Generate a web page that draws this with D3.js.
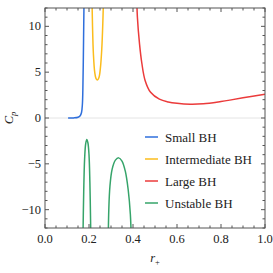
<!DOCTYPE html>
<html>
<head>
<meta charset="utf-8">
<script src="https://cdn.jsdelivr.net/npm/d3@7"></script>
<style>
  body { margin: 0; background: #fff; }
</style>
</head>
<body>
<div id="vis"></div>
<script>
// curves: [r+, Cp]
var smallBH = [[0.105,0],[0.13,0.01],[0.15,0.08],[0.16,0.25],[0.166,0.6],[0.17,1.5],[0.172,3],[0.174,6],[0.176,10],[0.178,14]];
var interBH = [[0.213,14],[0.216,10],[0.22,7],[0.226,5],[0.232,4.3],[0.238,4.15],[0.245,4.4],[0.252,5.5],[0.258,7.5],[0.263,10.5],[0.267,14]];
var largeBH = [[0.416,14],[0.42,11],[0.43,8],[0.44,6],[0.455,4.1],[0.48,2.8],[0.52,2.05],[0.56,1.75],[0.6,1.6],[0.66,1.5],[0.72,1.55],[0.8,1.8],[0.84,1.95],[0.9,2.2],[1.0,2.6]];
var unstable1 = [[0.172,-14],[0.176,-8],[0.18,-4.5],[0.185,-2.8],[0.19,-2.35],[0.195,-2.7],[0.2,-4],[0.204,-7],[0.207,-11],[0.209,-14]];
var unstable2 = [[0.287,-14],[0.29,-10],[0.295,-7.5],[0.305,-5.6],[0.32,-4.6],[0.335,-4.35],[0.35,-4.7],[0.365,-5.8],[0.378,-7.8],[0.388,-10.5],[0.393,-14]];

var legendNames  = ["Small BH", "Intermediate BH", "Large BH", "Unstable BH"];
var legendColors = ["#2f6fdc", "#fbbc1c", "#eb3b3b", "#36a46a"];
var xTicks = [0, 0.2, 0.4, 0.6, 0.8, 1.0];
var yTicks = [-10, -5, 0, 5, 10];

var FONT = "'Liberation Serif', 'Times New Roman', Times, 'DejaVu Serif', serif";
var W = 273, H = 273;
var margin = { top: 8, right: 8, bottom: 45, left: 45 };

var svg = d3.select("#vis").append("svg")
  .attr("width", W).attr("height", H)
  .attr("font-family", FONT);

var x = d3.scaleLinear().domain([0, 1]).range([margin.left, W - margin.right]);
var y = d3.scaleLinear().domain([-12, 12]).range([H - margin.bottom, margin.top]);

svg.append("clipPath").attr("id", "clip")
  .append("rect")
  .attr("x", x(0)).attr("y", y(12))
  .attr("width", x(1) - x(0)).attr("height", y(-12) - y(12));

// zero line
svg.append("line")
  .attr("x1", x(0)).attr("x2", x(1))
  .attr("y1", y(0)).attr("y2", y(0))
  .attr("stroke", "#e4e4e4").attr("stroke-width", 1);

var line = d3.line()
  .x(function (d) { return x(d[0]); })
  .y(function (d) { return y(d[1]); })
  .curve(d3.curveCatmullRom);

var series = [
  { data: smallBH, color: legendColors[0] },
  { data: interBH, color: legendColors[1] },
  { data: largeBH, color: legendColors[2] },
  { data: unstable1, color: legendColors[3] },
  { data: unstable2, color: legendColors[3] }
];

svg.append("g").attr("clip-path", "url(#clip)")
  .selectAll("path")
  .data(series)
  .enter().append("path")
  .attr("d", function (d) { return line(d.data); })
  .attr("fill", "none")
  .attr("stroke", function (d) { return d.color; })
  .attr("stroke-width", 1.5);

// frame
svg.append("rect")
  .attr("x", x(0)).attr("y", y(12))
  .attr("width", x(1) - x(0)).attr("height", y(-12) - y(12))
  .attr("fill", "none").attr("stroke", "#555").attr("stroke-width", 1);

// ticks on all four sides, pointing in
var tickG = svg.append("g").attr("stroke", "#555").attr("stroke-width", 1);
d3.range(0, 1.0001, 0.05).forEach(function (v, i) {
  var len = (i % 4 === 0) ? 4 : 2.5;
  tickG.append("line").attr("x1", x(v)).attr("x2", x(v)).attr("y1", y(-12)).attr("y2", y(-12) - len);
  tickG.append("line").attr("x1", x(v)).attr("x2", x(v)).attr("y1", y(12)).attr("y2", y(12) + len);
});
d3.range(-12, 12.001, 1).forEach(function (v) {
  var len = (v % 5 === 0) ? 4 : 2.5;
  tickG.append("line").attr("y1", y(v)).attr("y2", y(v)).attr("x1", x(0)).attr("x2", x(0) + len);
  tickG.append("line").attr("y1", y(v)).attr("y2", y(v)).attr("x1", x(1)).attr("x2", x(1) - len);
});

svg.append("g").selectAll("text")
  .data(xTicks).enter().append("text")
  .attr("x", function (d) { return x(d); })
  .attr("y", y(-12) + 15)
  .attr("text-anchor", "middle")
  .attr("font-size", 12.5)
  .attr("fill", "#222")
  .text(function (d) { return d.toFixed(1); });

svg.append("g").selectAll("text")
  .data(yTicks).enter().append("text")
  .attr("x", x(0) - 4)
  .attr("y", function (d) { return y(d) + 4; })
  .attr("text-anchor", "end")
  .attr("font-size", 12.5)
  .attr("fill", "#222")
  .text(function (d) { return d < 0 ? "\u2212" + Math.abs(d) : d; });

// axis labels
var xl = svg.append("text")
  .attr("x", x(0.5)).attr("y", H - 11)
  .attr("text-anchor", "middle")
  .attr("fill", "#222")
  .attr("font-size", 12.5).attr("font-style", "italic");
xl.append("tspan").text("r");
xl.append("tspan").attr("dy", 3).attr("font-size", 8.5).attr("font-style", "normal").text("+");

var yl = svg.append("text")
  .attr("transform", "translate(13," + y(0) + ") rotate(-90)")
  .attr("text-anchor", "middle")
  .attr("fill", "#222")
  .attr("font-size", 12.5).attr("font-style", "italic");
yl.append("tspan").text("C");
yl.append("tspan").attr("dy", 3).attr("font-size", 8.5).text("p");

// legend
var leg = svg.append("g").selectAll("g")
  .data(legendNames).enter().append("g")
  .attr("transform", function (d, i) { return "translate(145," + (137 + i * 22) + ")"; });
leg.append("line")
  .attr("x1", 0).attr("x2", 13)
  .attr("stroke", function (d, i) { return legendColors[i]; })
  .attr("stroke-width", 1.5);
leg.append("text")
  .attr("x", 20).attr("y", 4.5)
  .attr("font-size", 13)
  .attr("fill", "#222")
  .text(function (d) { return d; });
</script>
</body>
</html>
